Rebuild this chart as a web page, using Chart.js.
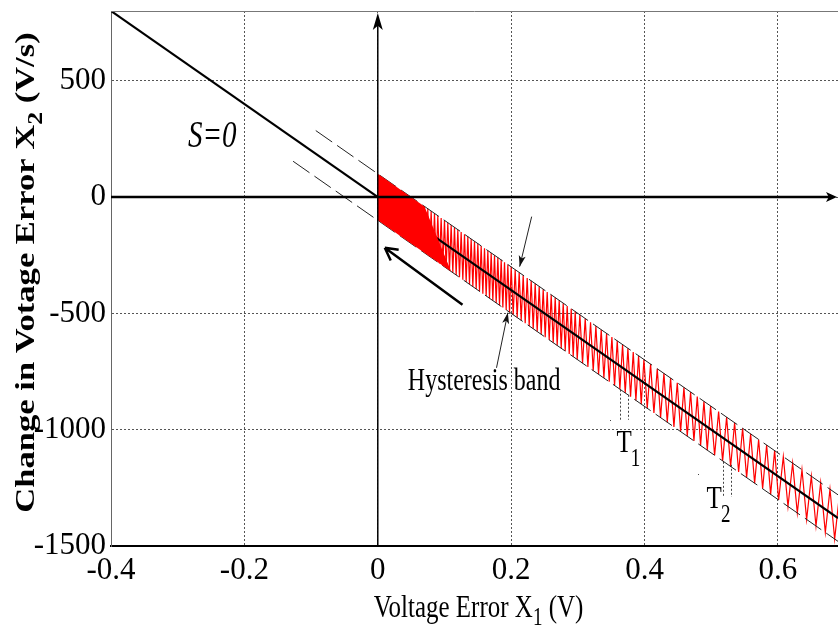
<!DOCTYPE html>
<html>
<head>
<meta charset="utf-8">
<script src="https://cdn.jsdelivr.net/npm/chart.js@4.4.0/dist/chart.umd.min.js"></script>
<style>
  body { margin: 0; background: #fff; }
  #chart { display: block; }
</style>
</head>
<body>
<canvas id="chart" width="838" height="628"></canvas>
<script>
// axis ticks
const xTicks = [-0.4, -0.2, 0, 0.2, 0.4, 0.6];
const yTicks = [-1500, -1000, -500, 0, 500];

// sliding line S=0 and the two edges of the hysteresis band
const slideX = [-0.4, 0.69];
const slideY = [800, -1380];
const bandUpX = [-0.093, 0.69];
const bandUpY = [286, -1280];
const bandLoX = [-0.127, 0.69];
const bandLoY = [154, -1480];

// near the origin the switching is so fast the band looks solid
const solidX = [0, 0.07, 0.11, 0];
const solidY = [100, -40, -320, -100];

// switching trajectory, turning points on the band edges
const zigX = [
  0.07, 0.0725, 0.075, 0.0775, 0.08, 0.0825, 0.085, 0.0875, 0.09, 0.0925, 0.095, 0.0975,
  0.1, 0.1025, 0.105, 0.1075, 0.11, 0.1125, 0.115, 0.1175, 0.12, 0.1225, 0.125, 0.1275,
  0.13, 0.1325, 0.135, 0.1375, 0.14, 0.1425, 0.145, 0.1475, 0.15, 0.1525, 0.155, 0.1575,
  0.16, 0.1625, 0.165, 0.1675, 0.17, 0.1725, 0.175, 0.1775, 0.18, 0.1825, 0.185, 0.1875,
  0.19, 0.1925, 0.195, 0.1975, 0.2,
  0.203, 0.206, 0.209, 0.212, 0.215, 0.218, 0.221, 0.224, 0.227, 0.23, 0.233, 0.236,
  0.239, 0.242, 0.245, 0.248, 0.251, 0.254, 0.257, 0.26, 0.263, 0.266, 0.269, 0.272,
  0.275, 0.278, 0.281, 0.284, 0.287, 0.29, 0.293, 0.296, 0.299,
  0.303, 0.307, 0.311, 0.315, 0.319, 0.323, 0.327, 0.331, 0.335, 0.339, 0.343, 0.347,
  0.351, 0.355, 0.359, 0.363, 0.367, 0.371, 0.375, 0.379, 0.383, 0.387, 0.391, 0.395, 0.399,
  0.404, 0.409, 0.414, 0.419, 0.424, 0.429, 0.434, 0.439, 0.444, 0.449,
  0.454, 0.459, 0.464, 0.469, 0.474, 0.479, 0.484, 0.489, 0.494, 0.499,
  0.505, 0.511, 0.517, 0.523, 0.529, 0.535, 0.541, 0.547, 0.553, 0.559,
  0.565, 0.571, 0.577, 0.583, 0.589, 0.595, 0.601,
  0.608, 0.615, 0.622, 0.629, 0.636, 0.643, 0.65, 0.657, 0.664, 0.671, 0.678, 0.685, 0.692
];
const zigY = [
  -40, -245, -50, -255, -60, -265, -70, -275, -80, -285, -90, -295,
  -100, -305, -110, -315, -120, -325, -130, -335, -140, -345, -150, -355,
  -160, -365, -170, -375, -180, -385, -190, -395, -200, -405, -210, -415,
  -220, -425, -230, -435, -240, -445, -250, -455, -260, -465, -270, -475,
  -280, -485, -290, -495, -300,
  -506, -312, -518, -324, -530, -336, -542, -348, -554, -360, -566, -372,
  -578, -384, -590, -396, -602, -408, -614, -420, -626, -432, -638, -444,
  -650, -456, -662, -468, -674, -480, -686, -492, -698,
  -506, -714, -522, -730, -538, -746, -554, -762, -570, -778, -586, -794,
  -602, -810, -618, -826, -634, -842, -650, -858, -666, -874, -682, -890, -698,
  -908, -718, -928, -738, -948, -758, -968, -778, -988, -798,
  -1008, -818, -1028, -838, -1048, -858, -1068, -878, -1088, -898,
  -1110, -922, -1134, -946, -1158, -970, -1182, -994, -1206, -1018,
  -1230, -1042, -1254, -1066, -1278, -1090, -1302,
  -1116, -1330, -1144, -1358, -1172, -1386, -1200, -1414, -1228, -1442, -1256, -1470, -1284
];

// period markers under the band (T1, T2)
const markX = [0.3625, 0.3745, 0.518, 0.53];
const markTop = [-828, -850, -1138, -1151];
const markBot = [-966, -957, -1289, -1289];

const SERIF = "'Liberation Serif', 'Times New Roman', serif";

function pts(xs, ys) {
  return xs.map((v, i) => ({ x: v, y: ys[i] }));
}

function arrowHead(ctx, x0, y0, x1, y1, len, half) {
  const a = Math.atan2(y1 - y0, x1 - x0);
  const c = Math.cos(a), s = Math.sin(a);
  ctx.beginPath();
  ctx.moveTo(x1, y1);
  ctx.lineTo(x1 - len * c + half * s, y1 - len * s - half * c);
  ctx.lineTo(x1 - len * 0.75 * c, y1 - len * 0.75 * s);
  ctx.lineTo(x1 - len * c - half * s, y1 - len * s + half * c);
  ctx.closePath();
  ctx.fill();
}

// text pieces (for subscripts) drawn with a vertical stretch
function rich(ctx, parts, x, y, opt) {
  const o = Object.assign({ sx: 1, sy: 1, rot: 0, center: false }, opt);
  let w = 0;
  parts.forEach(p => { ctx.font = p.font; w += ctx.measureText(p.t).width + (p.dx || 0); });
  ctx.save();
  ctx.translate(x, y);
  if (o.rot) ctx.rotate(o.rot);
  ctx.scale(o.sx, o.sy);
  ctx.textBaseline = 'alphabetic';
  ctx.textAlign = 'left';
  let cx = o.center ? -w / 2 : 0;
  parts.forEach(p => {
    ctx.font = p.font;
    cx += p.dx || 0;
    ctx.fillText(p.t, cx, p.dy || 0);
    cx += ctx.measureText(p.t).width;
  });
  ctx.restore();
}

const overlay = {
  id: 'overlay',
  afterDatasetsDraw(chart) {
    const { ctx, chartArea: a, scales: { x, y } } = chart;
    const px = v => x.getPixelForValue(v);
    const py = v => y.getPixelForValue(v);
    ctx.save();

    // solid patch of the band
    ctx.beginPath();
    solidX.forEach((v, i) => {
      if (i === 0) ctx.moveTo(px(v), py(solidY[i]));
      else ctx.lineTo(px(v), py(solidY[i]));
    });
    ctx.closePath();
    ctx.fillStyle = '#ff0000';
    ctx.fill();

    // top frame line
    ctx.strokeStyle = '#777';
    ctx.lineWidth = 1;
    ctx.beginPath();
    ctx.moveTo(a.left, a.top + 0.5);
    ctx.lineTo(a.right, a.top + 0.5);
    ctx.stroke();

    // axes through the origin
    ctx.strokeStyle = '#000';
    ctx.fillStyle = '#000';
    const ox = px(0), oy = py(0);
    ctx.lineWidth = 2.5;
    ctx.beginPath();
    ctx.moveTo(a.left, oy);
    ctx.lineTo(a.right - 6, oy);
    ctx.stroke();
    arrowHead(ctx, a.left, oy, a.right - 1, oy, 11, 5);
    ctx.lineWidth = 1.5;
    ctx.beginPath();
    ctx.moveTo(ox, a.bottom);
    ctx.lineTo(ox, a.top + 12);
    ctx.stroke();
    arrowHead(ctx, ox, a.bottom, ox, a.top + 2, 17, 5);

    // direction of motion along the sliding line
    const bx0 = px(0.127), by0 = py(-463), bx1 = px(0.0105), by1 = py(-218);
    ctx.lineWidth = 2.5;
    ctx.beginPath();
    ctx.moveTo(bx0, by0);
    ctx.lineTo(bx1, by1);
    const ang = Math.atan2(by1 - by0, bx1 - bx0);
    [0.5, -0.5].forEach(d => {
      ctx.moveTo(bx1, by1);
      ctx.lineTo(bx1 - 14 * Math.cos(ang + d), by1 - 14 * Math.sin(ang + d));
    });
    ctx.stroke();

    // pointers to the band edges
    ctx.lineWidth = 1;
    ctx.strokeStyle = '#222';
    ctx.fillStyle = '#111';
    [[0.2307, -84, 0.2127, -299], [0.178, -734, 0.195, -497]].forEach(([x0, y0, x1, y1]) => {
      ctx.beginPath();
      ctx.moveTo(px(x0), py(y0));
      ctx.lineTo(px(x1), py(y1));
      ctx.stroke();
      arrowHead(ctx, px(x0), py(y0), px(x1), py(y1), 11, 3.5);
    });

    // period markers
    ctx.strokeStyle = '#444';
    ctx.setLineDash([2, 2]);
    markX.forEach((v, i) => {
      ctx.beginPath();
      ctx.moveTo(Math.round(px(v)) + 0.5, py(markTop[i]));
      ctx.lineTo(Math.round(px(v)) + 0.5, py(markBot[i]));
      ctx.stroke();
    });
    ctx.setLineDash([]);
    ctx.fillStyle = '#444';
    [[0.3476, -957], [0.4794, -1189]].forEach(([u, v]) => ctx.fillRect(Math.round(px(u)), Math.round(py(v)), 1, 1));

    // labels
    ctx.fillStyle = '#000';
    rich(ctx, [{ t: 'S=0', font: `italic 29px ${SERIF}` }], px(-0.2847), py(216), { sy: 1.28 });
    rich(ctx, [{ t: 'Hysteresis band', font: `24px ${SERIF}` }], px(0.045), py(-828), { sy: 1.28 });
    rich(ctx, [
      { t: 'T', font: `25px ${SERIF}` },
      { t: '1', font: `19px ${SERIF}`, dy: 11, dx: -1 }
    ], px(0.358), py(-1096), { sy: 1.3 });
    rich(ctx, [
      { t: 'T', font: `25px ${SERIF}` },
      { t: '2', font: `19px ${SERIF}`, dy: 11, dx: -1 }
    ], px(0.493), py(-1336), { sy: 1.3 });

    // axis titles
    rich(ctx, [
      { t: 'Voltage Error X', font: `25px ${SERIF}` },
      { t: '1', font: `19px ${SERIF}`, dy: 6 },
      { t: ' (V)', font: `25px ${SERIF}` }
    ], (a.left + a.right) / 2 + 4, chart.height - 11, { sy: 1.3, center: true });
    rich(ctx, [
      { t: 'Change in Votage Error X', font: `bold 27px ${SERIF}` },
      { t: '2', font: `bold 20px ${SERIF}`, dy: 8 },
      { t: ' (V/s)', font: `bold 27px ${SERIF}` }
    ], 34, (a.top + a.bottom) / 2 - 6, { rot: -Math.PI / 2, sx: 1.28, center: true });

    ctx.restore();
  }
};

const tickFont = { family: SERIF, size: 31 };

new Chart(document.getElementById('chart'), {
  type: 'scatter',
  data: {
    datasets: [
      { data: pts(slideX, slideY), showLine: true, borderColor: '#000', borderWidth: 2.2, pointRadius: 0, order: 0 },
      { data: pts(bandUpX, bandUpY), showLine: true, borderColor: '#222', borderWidth: 1, borderDash: [20, 6], pointRadius: 0, order: 1 },
      { data: pts(bandLoX, bandLoY), showLine: true, borderColor: '#222', borderWidth: 1, borderDash: [20, 6], pointRadius: 0, order: 1 },
      { data: pts(zigX, zigY), showLine: true, borderColor: '#ff0000', borderWidth: 1.2, pointRadius: 0, order: 2 }
    ]
  },
  options: {
    responsive: false,
    animation: false,
    devicePixelRatio: 1,
    layout: { padding: { top: 11, right: 0, bottom: 0, left: 0 } },
    plugins: { legend: { display: false }, tooltip: { enabled: false } },
    scales: {
      x: {
        type: 'linear',
        min: -0.4,
        max: 0.69,
        afterBuildTicks: axis => { axis.ticks = xTicks.map(v => ({ value: v })); },
        afterFit: axis => { axis.height = 82; axis.paddingLeft = 0; axis.paddingRight = 0; },
        grid: { color: '#555', lineWidth: 1, drawTicks: false },
        border: { color: '#000', width: 2, dash: [2, 2] },
        ticks: { color: '#000', padding: 6, font: tickFont, callback: v => String(v) }
      },
      y: {
        type: 'linear',
        min: -1500,
        max: 800,
        afterBuildTicks: axis => { axis.ticks = yTicks.map(v => ({ value: v })); },
        afterFit: axis => { axis.width = 111; axis.paddingTop = 0; axis.paddingBottom = 0; },
        grid: { color: '#555', lineWidth: 1, drawTicks: false },
        border: { color: '#666', width: 1, dash: [2, 2] },
        ticks: { color: '#000', padding: 5, font: tickFont, callback: v => String(v) }
      }
    }
  },
  plugins: [overlay]
});
</script>
</body>
</html>
